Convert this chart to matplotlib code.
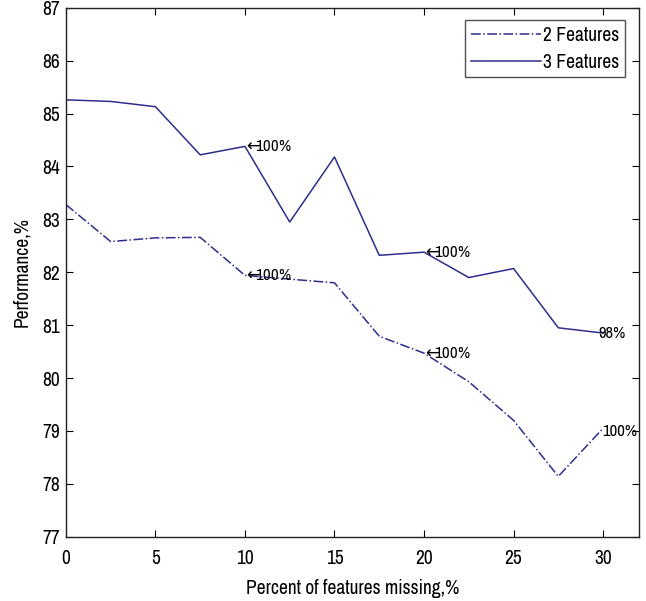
import matplotlib
matplotlib.use("Agg")
import matplotlib.pyplot as plt

plt.rcParams['font.family'] = ['Archivo Narrow', 'Liberation Sans', 'DejaVu Sans']

x = [0, 2.5, 5, 7.5, 10, 12.5, 15, 17.5, 20, 22.5, 25, 27.5, 30]
feat2 = [83.28, 82.58, 82.65, 82.66, 81.94, 81.87, 81.80, 80.79, 80.47, 79.93, 79.20, 78.14, 79.05]
feat3 = [85.26, 85.23, 85.13, 84.22, 84.38, 82.95, 84.18, 82.32, 82.38, 81.90, 82.07, 80.95, 80.85]
labels = ["2 Features", "3 Features"]

ann_x = [10, 10, 20, 20]
ann_y = [84.38, 81.94, 82.38, 80.47]
ann_txt = [r"$\leftarrow\!\!\!$100%"] * 4
end_x = [29.75, 29.95]
end_y = [80.85, 78.98]
end_txt = ["98%", "100%"]

color = '#2e2e8c'

fig = plt.figure(figsize=(6.46, 6.01), dpi=100)
ax = fig.add_axes([0.102, 0.107, 0.887, 0.88])

ax.plot(x, feat2, linestyle='-.', color=color, lw=1.1, label=labels[0])
ax.plot(x, feat3, linestyle='-', color=color, lw=1.1, label=labels[1])

for xi, yi, t in zip(ann_x, ann_y, ann_txt):
    ax.text(xi - 0.1, yi, t, ha='left', va='center', fontsize=12, color='black')
for xi, yi, t in zip(end_x, end_y, end_txt):
    ax.text(xi, yi, t, ha='left', va='center', fontsize=12, color='black')

ax.set_xlim(0, 32)
ax.set_ylim(77, 87)
ax.set_xticks([0, 5, 10, 15, 20, 25, 30])
ax.set_yticks(range(77, 88))
ax.tick_params(direction='in', top=True, right=True, length=5, labelsize=14)
ax.tick_params(axis='x', pad=9)
ax.tick_params(axis='y', pad=4)
for s in ax.spines.values():
    s.set_linewidth(1.0)
    s.set_color('#222222')

ax.set_xlabel("Percent of features missing,%", fontsize=14, labelpad=8)
ax.set_ylabel("Performance,%", fontsize=14, labelpad=8)

leg = ax.legend(loc='upper right', fontsize=14, frameon=True, fancybox=False,
                edgecolor='#222222', handlelength=3.6, handletextpad=0.1,
                borderpad=0.3, labelspacing=0.4, borderaxespad=0,
                bbox_to_anchor=(0.976, 0.977))
leg.get_frame().set_linewidth(1.0)

fig.savefig("out.png", dpi=100)
